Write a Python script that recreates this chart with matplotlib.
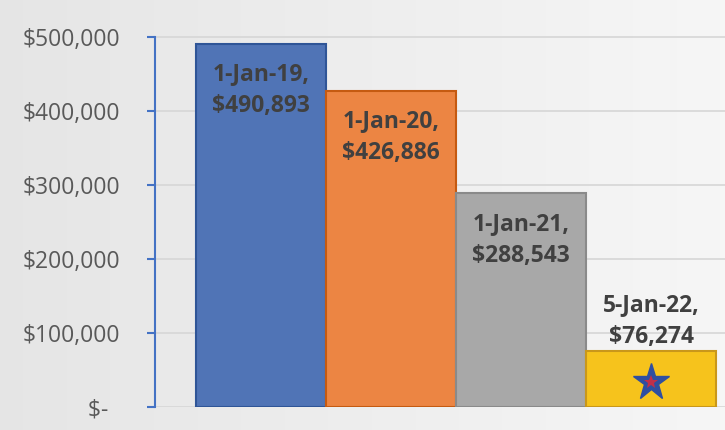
import matplotlib
matplotlib.use("Agg")
import matplotlib.pyplot as plt
import numpy as np

dates = ["1-Jan-19", "1-Jan-20", "1-Jan-21", "5-Jan-22"]
values = [490893, 426886, 288543, 76274]
tick_values = [0, 100000, 200000, 300000, 400000, 500000]
tick_labels = ["$-  ", "$100,000", "$200,000", "$300,000", "$400,000", "$500,000"]

fills = ["#5074b6", "#ec8543", "#a8a8a8", "#f6c31c"]
edges = ["#2f5597", "#c55a11", "#8a8a8a", "#c9971a"]

fig = plt.figure(figsize=(7.25, 4.3), dpi=100)

# soft grey gradient background like the screenshot
bg = fig.add_axes([0, 0, 1, 1], zorder=0)
grad = np.linspace(0.90, 0.965, 256).reshape(1, -1)
bg.imshow(np.dstack([grad, grad, grad]), aspect="auto", extent=[0, 1, 0, 1])
bg.axis("off")

ax = fig.add_axes([155 / 725, 23 / 430, 570 / 725, 377 / 430], zorder=1)
ax.patch.set_alpha(0)

x = np.arange(len(values))
ax.bar(x, values, width=1.0, color=fills, edgecolor=edges, linewidth=1.5, zorder=3)

ax.set_xlim(-0.5 - 41 / 130, 3.5 + 9 / 130)
ax.set_ylim(0, 500000 * 377 / 370)

ax.set_yticks(tick_values)
ax.set_yticklabels(tick_labels)
ax.yaxis.grid(True, color="#d6d6d6", linewidth=1.2, zorder=0)
ax.tick_params(axis="y", length=6, width=1.5, color="#4472c4", pad=19,
               labelsize=16.5, labelcolor="#595959")
for lbl in ax.get_yticklabels():
    lbl.set_fontfamily("Open Sans")
ax.set_xticks([])

for side in ["top", "right", "bottom"]:
    ax.spines[side].set_visible(False)
ax.spines["left"].set_color("#4472c4")
ax.spines["left"].set_linewidth(1.5)
ax.spines["left"].set_bounds(0, 500000)

for i, (d, v) in enumerate(zip(dates, values)):
    label = f"{d},\n${v:,}"
    if v > 150000:
        ax.annotate(label, (x[i], v), xytext=(0, -13), textcoords="offset points",
                    ha="center", va="top", fontsize=16.5, fontweight="bold",
                    color="#404040", family="Open Sans", linespacing=1.45, zorder=4)
    else:
        ax.annotate(label, (x[i], v), xytext=(0, 1), textcoords="offset points",
                    ha="center", va="bottom", fontsize=16.5, fontweight="bold",
                    color="#404040", family="Open Sans", linespacing=1.45, zorder=4)

# star decoration in the last bar
ax.plot(x[-1], values[-1] * 0.45, marker="*", markersize=28, color="#2f4fa0",
        markeredgecolor="#2f4fa0", zorder=5)
ax.plot(x[-1], values[-1] * 0.45, marker="*", markersize=10, color="#c0304a",
        markeredgewidth=0, zorder=6)

fig.savefig("out.png", dpi=100)
